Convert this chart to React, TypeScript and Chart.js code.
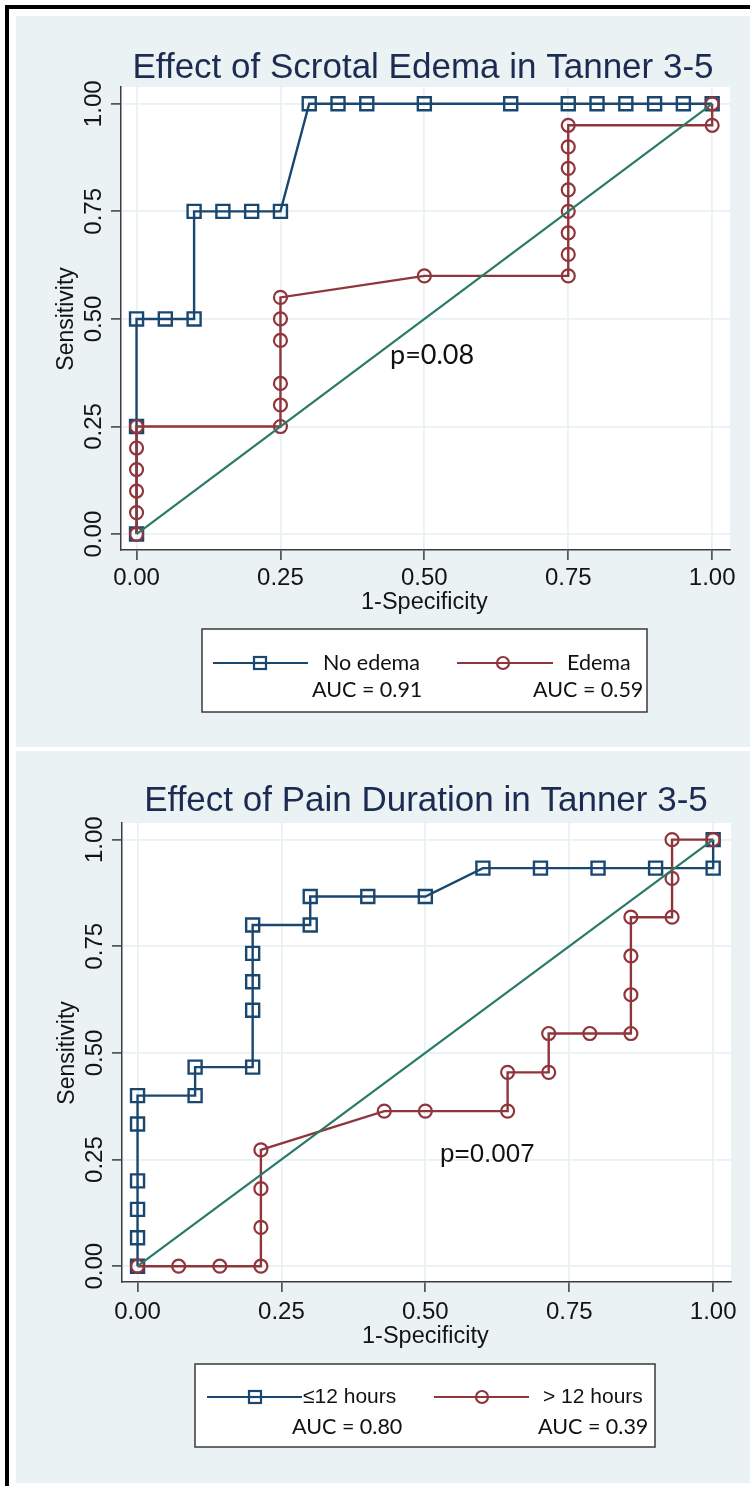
import React, { useEffect, useRef } from "react";
import { Chart, registerables } from "chart.js";

Chart.register(...registerables);

// ---------- data ----------
const tickValues = [0, 0.25, 0.5, 0.75, 1];
const tickLabels = ["0.00", "0.25", "0.50", "0.75", "1.00"];

// Chart 1: Effect of Scrotal Edema
const noEdemaX = [0, 0, 0, 0.05, 0.1, 0.1, 0.15, 0.2, 0.25, 0.3, 0.35, 0.4, 0.5, 0.65, 0.75, 0.8, 0.85, 0.9, 0.95, 1];
const noEdemaY = [0, 0.25, 0.5, 0.5, 0.5, 0.75, 0.75, 0.75, 0.75, 1, 1, 1, 1, 1, 1, 1, 1, 1, 1, 1];
const edemaX = [0, 0, 0, 0, 0, 0, 0.25, 0.25, 0.25, 0.25, 0.25, 0.25, 0.5, 0.75, 0.75, 0.75, 0.75, 0.75, 0.75, 0.75, 0.75, 1, 1];
const edemaY = [0, 0.05, 0.1, 0.15, 0.2, 0.25, 0.25, 0.3, 0.35, 0.45, 0.5, 0.55, 0.6, 0.6, 0.65, 0.7, 0.75, 0.8, 0.85, 0.9, 0.95, 0.95, 1];

// Chart 2: Effect of Pain Duration
const shortX = [0, 0, 0, 0, 0, 0, 0.1, 0.1, 0.2, 0.2, 0.2, 0.2, 0.2, 0.3, 0.3, 0.4, 0.5, 0.6, 0.7, 0.8, 0.9, 1, 1];
const shortY = [0, 0.0667, 0.1333, 0.2, 0.3333, 0.4, 0.4, 0.4667, 0.4667, 0.6, 0.6667, 0.7333, 0.8, 0.8, 0.8667, 0.8667, 0.8667, 0.9333, 0.9333, 0.9333, 0.9333, 0.9333, 1];
const longX = [0, 0.0714, 0.1429, 0.2143, 0.2143, 0.2143, 0.2143, 0.4286, 0.5, 0.6429, 0.6429, 0.7143, 0.7143, 0.7857, 0.8571, 0.8571, 0.8571, 0.8571, 0.9286, 0.9286, 0.9286, 1];
const longY = [0, 0, 0, 0, 0.0909, 0.1818, 0.2727, 0.3636, 0.3636, 0.3636, 0.4545, 0.4545, 0.5455, 0.5455, 0.5455, 0.6364, 0.7273, 0.8182, 0.8182, 0.9091, 1, 1];

const refX = [0, 1];
const refY = [0, 1];

const BLUE = "#1a476f";
const RED = "#90353b";
const GREEN = "#2a7a68";
const PANEL = "rgb(234,242,243)";
const GRID = "rgb(232,241,243)";
const AXIS = "#3c3c3c";
const TITLE = "#1c2b52";

const pts = (xs: number[], ys: number[]) => xs.map((x, i) => ({ x, y: ys[i] }));

type Cfg = {
  title: string;
  titleX: number;
  titleY: number;
  padding: { left: number; right: number; top: number; bottom: number };
  xLabelY: number;
  xTitleY: number;
  yLabelX: number;
  yTitleX: number;
  pText: string;
  pFont: string;
  pX: number;
  pY: number;
  legend: {
    box: [number, number, number, number];
    rowY: number;
    aucY: number;
    line1: [number, number, number];
    line2: [number, number, number];
    label1: string;
    label2: string;
    label1X: number;
    label2X: number;
    labelFont: string;
    auc1: string;
    auc2: string;
    auc1X: number;
    auc2X: number;
  };
};

const textPlugin = {
  id: "stataText",
  beforeDraw(chart: any) {
    const { ctx, chartArea: a } = chart;
    ctx.save();
    ctx.fillStyle = "#ffffff";
    ctx.fillRect(a.left, a.top, a.right - a.left, a.bottom - a.top);
    ctx.restore();
  },
  afterDraw(chart: any, _args: any, opts: any) {
    const cfg: Cfg = opts.cfg;
    if (!cfg) return;
    const { ctx } = chart;
    const xs = chart.scales.x;
    const ys = chart.scales.y;
    ctx.save();
    // title
    ctx.fillStyle = TITLE;
    ctx.font = "35px 'Liberation Sans'";
    ctx.textAlign = "center";
    ctx.textBaseline = "middle";
    ctx.fillText(cfg.title, cfg.titleX, cfg.titleY);

    // x tick labels
    ctx.fillStyle = "#141414";
    ctx.font = "24px 'Liberation Sans'";
    tickValues.forEach((v, i) => {
      ctx.fillText(tickLabels[i], xs.getPixelForValue(v), cfg.xLabelY);
    });
    ctx.font = "23.5px 'Liberation Sans'";
    ctx.fillText("1-Specificity", xs.getPixelForValue(0.5), cfg.xTitleY);

    // y tick labels (rotated)
    ctx.font = "24px 'Liberation Sans'";
    ctx.textBaseline = "alphabetic";
    tickValues.forEach((v, i) => {
      ctx.save();
      ctx.translate(cfg.yLabelX, ys.getPixelForValue(v));
      ctx.rotate(-Math.PI / 2);
      ctx.fillText(tickLabels[i], 0, 0);
      ctx.restore();
    });
    ctx.save();
    ctx.font = "23px 'Liberation Sans'";
    ctx.translate(cfg.yTitleX, ys.getPixelForValue(0.5));
    ctx.rotate(-Math.PI / 2);
    ctx.fillText("Sensitivity", 0, 0);
    ctx.restore();

    // p value
    ctx.textAlign = "left";
    ctx.textBaseline = "middle";
    ctx.font = cfg.pFont;
    ctx.fillStyle = "#111";
    ctx.fillText(cfg.pText, cfg.pX, cfg.pY);

    // legend
    const L = cfg.legend;
    const [bx0, by0, bx1, by1] = L.box;
    ctx.fillStyle = "#fff";
    ctx.fillRect(bx0, by0, bx1 - bx0, by1 - by0);
    ctx.strokeStyle = "#3a3a3a";
    ctx.lineWidth = 1.5;
    ctx.strokeRect(bx0, by0, bx1 - bx0, by1 - by0);

    ctx.lineWidth = 2.2;
    ctx.strokeStyle = BLUE;
    ctx.beginPath();
    ctx.moveTo(L.line1[0], L.rowY);
    ctx.lineTo(L.line1[1], L.rowY);
    ctx.stroke();
    ctx.fillStyle = "#fff";
    ctx.fillRect(L.line1[2] - 6, L.rowY - 6, 12, 12);
    ctx.strokeRect(L.line1[2] - 6, L.rowY - 6, 12, 12);
    ctx.beginPath();
    ctx.moveTo(L.line1[2] - 6, L.rowY);
    ctx.lineTo(L.line1[2] + 6, L.rowY);
    ctx.stroke();

    ctx.strokeStyle = RED;
    ctx.beginPath();
    ctx.moveTo(L.line2[0], L.rowY);
    ctx.lineTo(L.line2[1], L.rowY);
    ctx.stroke();
    ctx.beginPath();
    ctx.arc(L.line2[2], L.rowY, 6, 0, Math.PI * 2);
    ctx.stroke();

    ctx.fillStyle = "#111";
    ctx.font = L.labelFont;
    ctx.fillText(L.label1, L.label1X, L.rowY);
    ctx.fillText(L.label2, L.label2X, L.rowY);
    ctx.font = "21.5px Lato";
    ctx.fillText(L.auc1, L.auc1X, L.aucY);
    ctx.fillText(L.auc2, L.auc2X, L.aucY);
    ctx.restore();
  },
};

function makeConfig(
  s1: { x: number; y: number }[],
  s2: { x: number; y: number }[],
  cfg: Cfg
): any {
  const axis = (min: number, max: number) => ({
    type: "linear",
    min,
    max,
    afterBuildTicks: (scale: any) => {
      scale.ticks = tickValues.map((v) => ({ value: v }));
    },
    ticks: { display: false },
    grid: {
      color: GRID,
      lineWidth: 1.8,
      tickColor: AXIS,
      tickLength: 10,
      tickWidth: 1.5,
    },
    border: { display: true, color: AXIS, width: 1.5 },
  });
  return {
    type: "scatter",
    data: {
      datasets: [
        {
          data: pts(refX, refY),
          showLine: true,
          borderColor: GREEN,
          borderWidth: 2.2,
          pointRadius: 0,
          order: 0,
        },
        {
          data: s2,
          showLine: true,
          borderColor: RED,
          borderWidth: 2.4,
          pointStyle: "circle",
          pointRadius: 6.5,
          pointBorderWidth: 2.2,
          pointBorderColor: RED,
          pointBackgroundColor: "rgba(0,0,0,0)",
          order: 1,
        },
        {
          data: s1,
          showLine: true,
          borderColor: BLUE,
          borderWidth: 2.4,
          pointStyle: "rect",
          pointRadius: 9.2,
          pointBorderWidth: 2.4,
          pointBorderColor: BLUE,
          pointBackgroundColor: "rgba(0,0,0,0)",
          order: 2,
        },
      ],
    },
    options: {
      responsive: false,
      animation: false,
      devicePixelRatio: 1,
      layout: { padding: cfg.padding },
      scales: { x: axis(-0.027, 1.031), y: axis(-0.037, 1.039) },
      plugins: {
        legend: { display: false },
        tooltip: { enabled: false },
        title: { display: false },
        stataText: { cfg },
      },
    },
    plugins: [textPlugin],
  };
}

const cfg1: Cfg = {
  title: "Effect of Scrotal Edema in Tanner 3-5",
  titleX: 423,
  titleY: 68,
  padding: { left: 111, right: 20, top: 87, bottom: 187 },
  xLabelY: 578,
  xTitleY: 603,
  yLabelX: 101,
  yTitleX: 73,
  pText: "p=0.08",
  pFont: "27px Lato",
  pX: 390,
  pY: 355,
  legend: {
    box: [202, 629, 647, 712],
    rowY: 663,
    aucY: 690,
    line1: [213, 308, 260],
    line2: [457, 553, 503],
    label1: "No edema",
    label2: "Edema",
    label1X: 323,
    label2X: 567,
    labelFont: "21.5px Lato",
    auc1: "AUC = 0.91",
    auc2: "AUC = 0.59",
    auc1X: 312,
    auc2X: 533,
  },
};

const cfg2: Cfg = {
  title: "Effect of Pain Duration in Tanner 3-5",
  titleX: 426,
  titleY: 51,
  padding: { left: 112, right: 19, top: 73, bottom: 194 },
  xLabelY: 562,
  xTitleY: 587,
  yLabelX: 102,
  yTitleX: 74,
  pText: "p=0.007",
  pFont: "26px 'Liberation Sans'",
  pX: 440,
  pY: 405,
  legend: {
    box: [195, 614, 655, 697],
    rowY: 647,
    aucY: 677,
    line1: [207, 302, 255],
    line2: [434, 529, 482],
    label1: "\u226412 hours",
    label2: "> 12 hours",
    label1X: 303,
    label2X: 543,
    labelFont: "21px 'Liberation Sans'",
    auc1: "AUC = 0.80",
    auc2: "AUC = 0.39",
    auc1X: 292,
    auc2X: 538,
  },
};

function RocChart(props: {
  top: number;
  height: number;
  s1: { x: number; y: number }[];
  s2: { x: number; y: number }[];
  cfg: Cfg;
}) {
  const ref = useRef<HTMLCanvasElement | null>(null);
  useEffect(() => {
    if (!ref.current) return;
    const chart = new Chart(ref.current, makeConfig(props.s1, props.s2, props.cfg));
    return () => chart.destroy();
  }, []);
  return (
    <canvas
      ref={ref}
      width={750}
      height={props.height}
      style={{ position: "absolute", left: 0, top: props.top, width: 750, height: props.height }}
    />
  );
}

export default function App() {
  return (
    <div
      style={{
        position: "absolute",
        left: 0,
        top: 0,
        width: 750,
        height: 1486,
        background: "#fff",
        overflow: "hidden",
      }}
    >
      <div style={{ position: "absolute", left: 5, top: 5, width: 745, height: 4, background: "#000" }} />
      <div style={{ position: "absolute", left: 5, top: 5, width: 4, height: 1481, background: "#000" }} />
      <div style={{ position: "absolute", left: 16, top: 16, width: 734, height: 731, background: PANEL }} />
      <div style={{ position: "absolute", left: 16, top: 751, width: 734, height: 732, background: PANEL }} />
      <RocChart top={0} height={747} s1={pts(noEdemaX, noEdemaY)} s2={pts(edemaX, edemaY)} cfg={cfg1} />
      <RocChart top={750} height={736} s1={pts(shortX, shortY)} s2={pts(longX, longY)} cfg={cfg2} />
    </div>
  );
}
